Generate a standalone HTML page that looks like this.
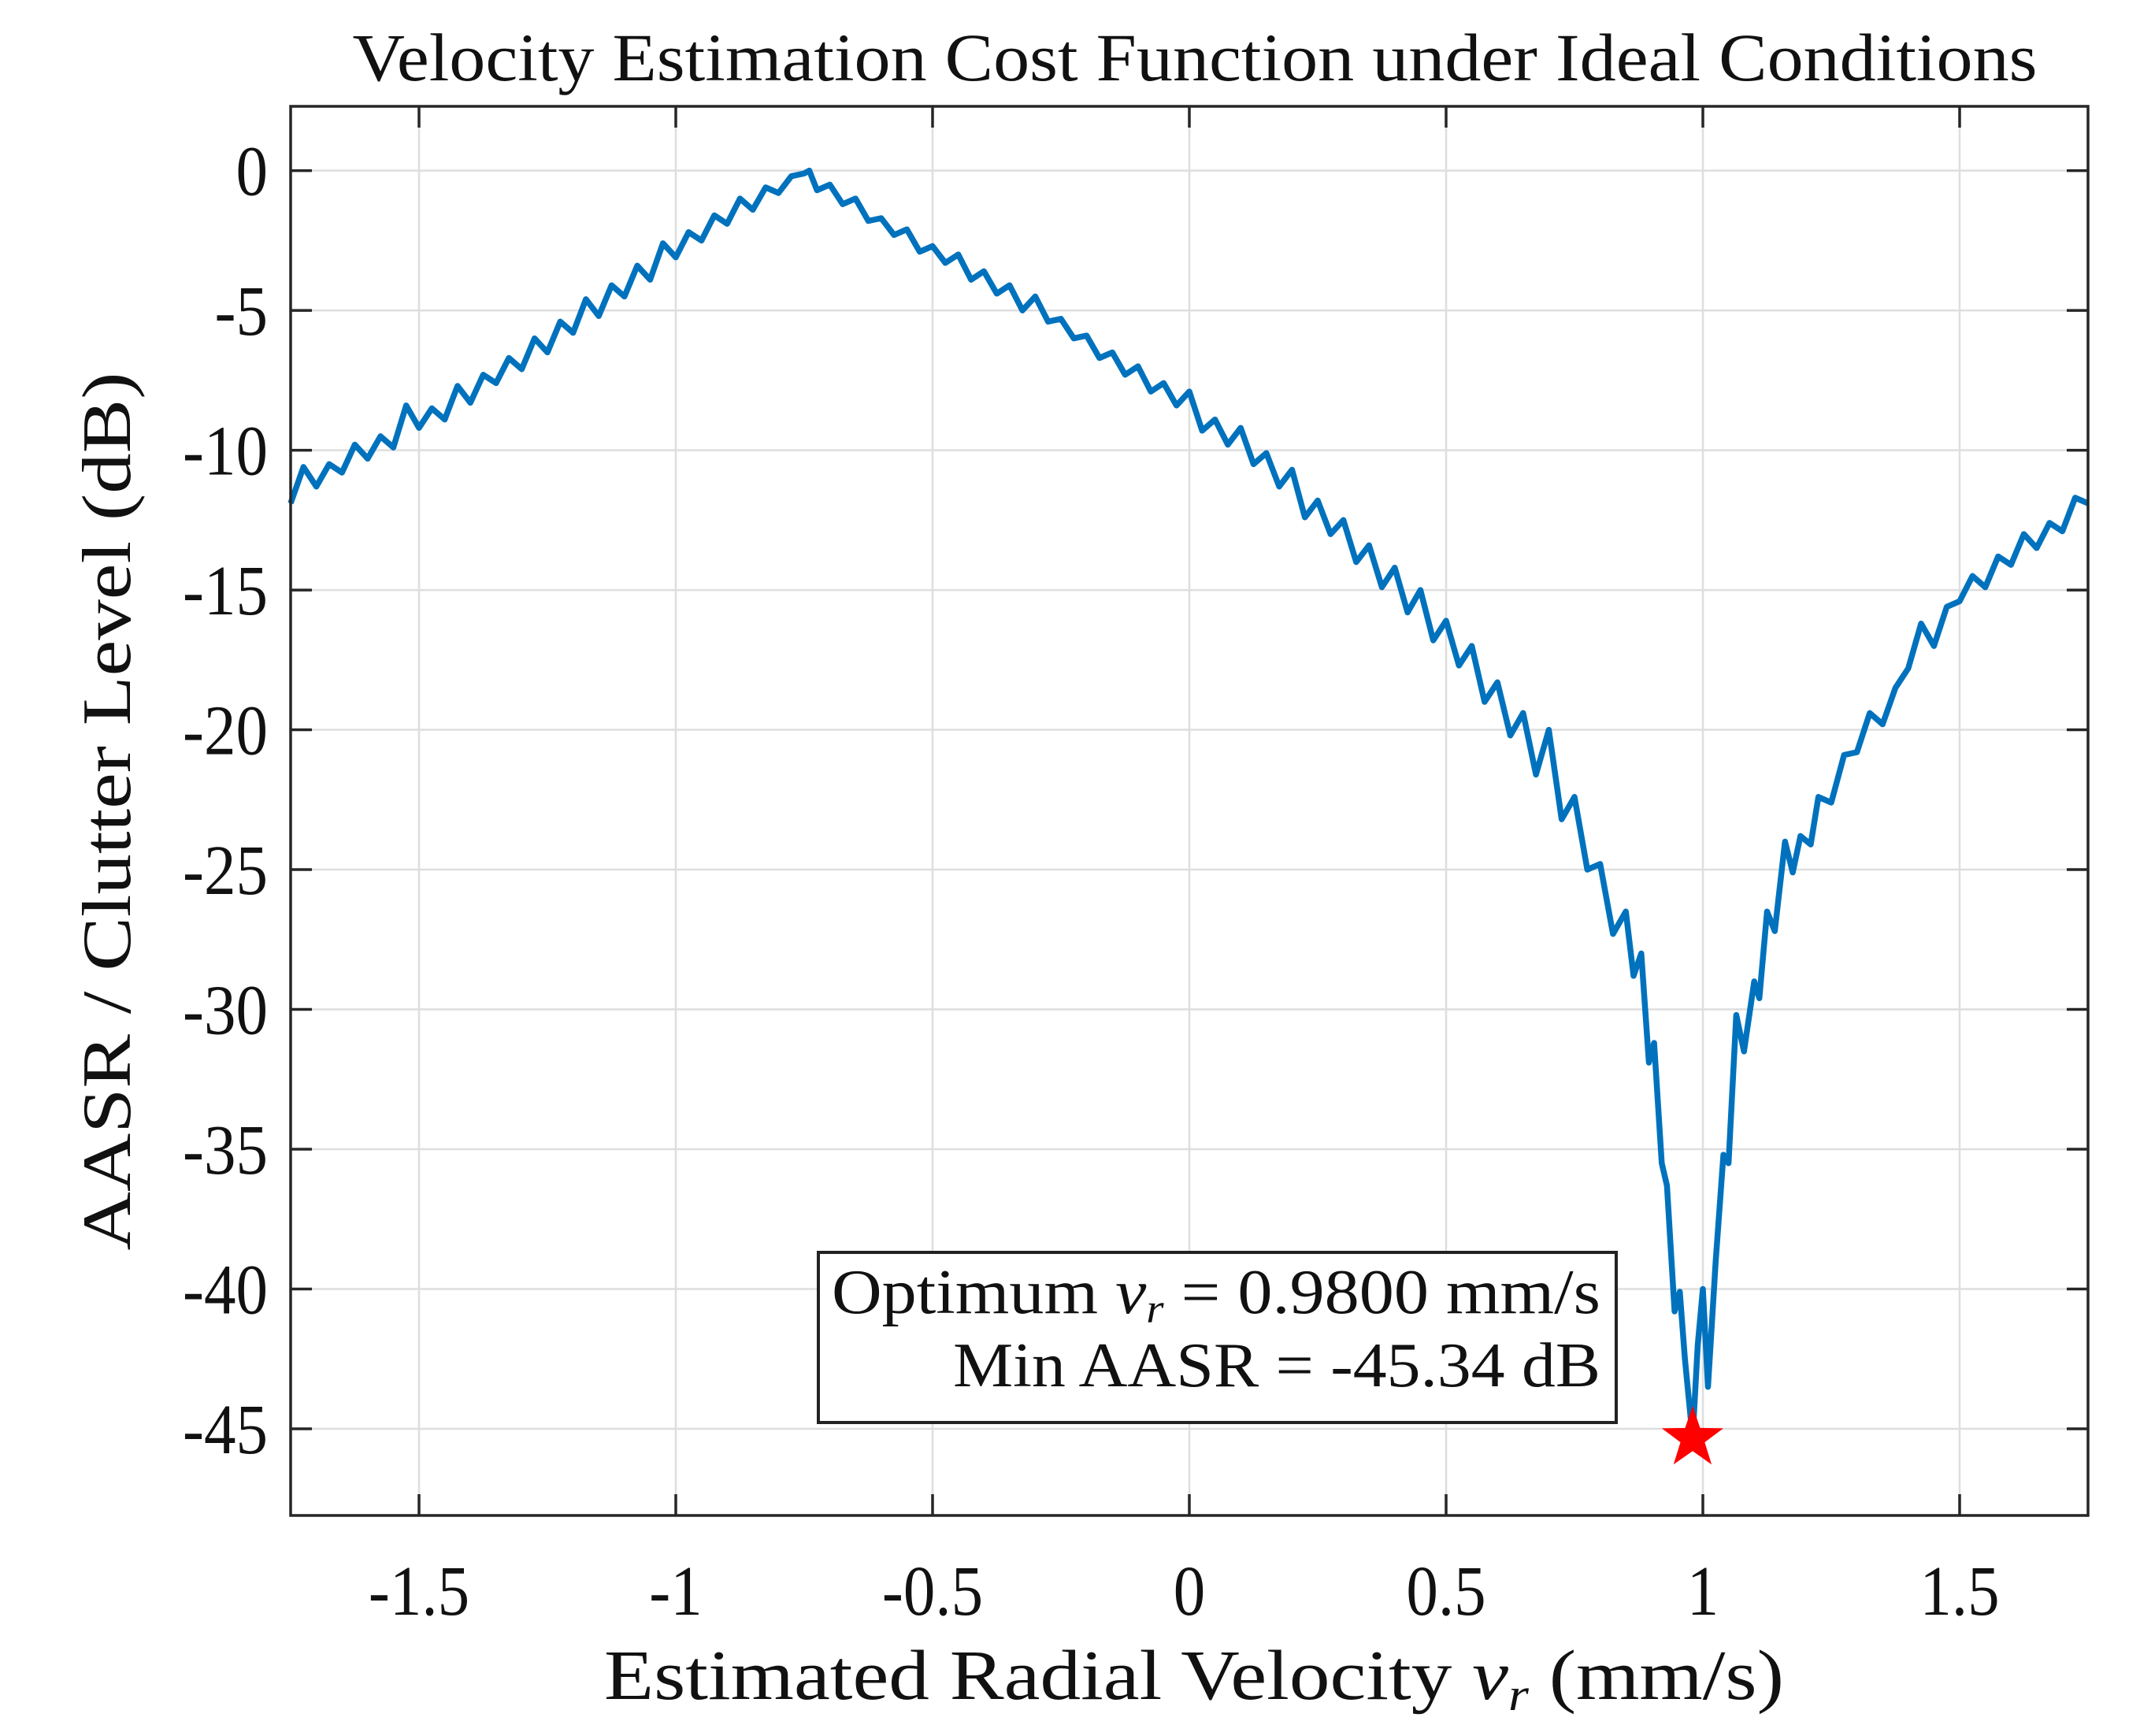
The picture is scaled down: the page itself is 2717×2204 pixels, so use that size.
<!DOCTYPE html>
<html>
<head>
<meta charset="utf-8">
<style>
html,body{margin:0;padding:0;background:#fff;}
svg{display:block;}
text{font-family:"Liberation Serif",serif;fill:#111;}
</style>
</head>
<body>
<svg id="chart" width="2717" height="2204" viewBox="0 0 2717 2204" xmlns="http://www.w3.org/2000/svg">
  <rect x="0" y="0" width="2717" height="2204" fill="#fff"/>
  <g id="grid"></g>
  <g id="curve-layer"></g>
  <g id="axes"></g>
  <text x="1517" y="102" font-size="86" text-anchor="middle" textLength="2139" lengthAdjust="spacingAndGlyphs">Velocity Estimation Cost Function under Ideal Conditions</text>
  <text x="1516" y="2157" font-size="90" text-anchor="middle" textLength="1498" lengthAdjust="spacingAndGlyphs">Estimated Radial Velocity <tspan font-style="italic">v</tspan><tspan font-style="italic" font-size="58" dy="14">r</tspan><tspan dy="-14"> (mm/s)</tspan></text>
  <text transform="translate(165,1030) rotate(-90)" x="0" y="0" font-size="88" text-anchor="middle" textLength="1115" lengthAdjust="spacingAndGlyphs" fill="#222">AASR / Clutter Level (dB)</text>
  <g>
    <rect x="1039" y="1590" width="1013" height="216" fill="#fff" stroke="#222" stroke-width="4"/>
    <text x="2032" y="1667" font-size="80" text-anchor="end" textLength="976" lengthAdjust="spacingAndGlyphs">Optimum <tspan font-style="italic">v</tspan><tspan font-style="italic" font-size="52" dy="12">r</tspan><tspan dy="-12"> = 0.9800 mm/s</tspan></text>
    <text x="2032" y="1760" font-size="80" text-anchor="end" textLength="822" lengthAdjust="spacingAndGlyphs">Min AASR = -45.34 dB</text>
  </g>
</svg>
<script>
const xTicks = [-1.5, -1, -0.5, 0, 0.5, 1, 1.5];
const xTickLabels = ["-1.5", "-1", "-0.5", "0", "0.5", "1", "1.5"];
const yTicks = [0, -5, -10, -15, -20, -25, -30, -35, -40, -45];
const yTickLabels = ["0", "-5", "-10", "-15", "-20", "-25", "-30", "-35", "-40", "-45"];
const velocity = [-1.75,-1.725,-1.7,-1.675,-1.65,-1.625,-1.6,-1.575,-1.55,-1.525,-1.5,-1.475,-1.45,-1.425,-1.4,-1.375,-1.35,-1.325,-1.3,-1.275,-1.25,-1.225,-1.2,-1.175,-1.15,-1.125,-1.1,-1.075,-1.05,-1.025,-1.0,-0.975,-0.95,-0.925,-0.9,-0.875,-0.85,-0.825,-0.8,-0.775,-0.75,-0.74,-0.725,-0.7,-0.675,-0.65,-0.625,-0.6,-0.575,-0.55,-0.525,-0.5,-0.475,-0.45,-0.425,-0.4,-0.375,-0.35,-0.325,-0.3,-0.275,-0.25,-0.225,-0.2,-0.175,-0.15,-0.125,-0.1,-0.075,-0.05,-0.025,0,0.025,0.05,0.075,0.1,0.125,0.15,0.175,0.2,0.225,0.25,0.275,0.3,0.325,0.35,0.375,0.4,0.425,0.45,0.475,0.5,0.525,0.55,0.575,0.6,0.625,0.65,0.675,0.7,0.725,0.75,0.775,0.8,0.825,0.85,0.865,0.88,0.895,0.905,0.92,0.93,0.945,0.955,0.965,0.98,0.99,1.0,1.01,1.025,1.04,1.05,1.065,1.08,1.1,1.11,1.125,1.14,1.16,1.175,1.19,1.21,1.225,1.25,1.275,1.3,1.325,1.35,1.375,1.4,1.425,1.45,1.475,1.5,1.525,1.55,1.575,1.6,1.625,1.65,1.675,1.7,1.725,1.75];
const aasr = [-11.9,-10.6,-11.3,-10.5,-10.8,-9.8,-10.3,-9.5,-9.9,-8.4,-9.2,-8.5,-8.9,-7.7,-8.3,-7.3,-7.6,-6.7,-7.1,-6.0,-6.5,-5.4,-5.8,-4.6,-5.2,-4.1,-4.5,-3.4,-3.9,-2.6,-3.1,-2.2,-2.5,-1.6,-1.9,-1.0,-1.4,-0.6,-0.8,-0.2,-0.1,0,-0.7,-0.5,-1.2,-1.0,-1.8,-1.7,-2.3,-2.1,-2.9,-2.7,-3.3,-3.0,-3.9,-3.6,-4.4,-4.1,-5.0,-4.5,-5.4,-5.3,-6.0,-5.9,-6.7,-6.5,-7.3,-7.0,-7.9,-7.6,-8.4,-7.9,-9.3,-8.9,-9.8,-9.2,-10.5,-10.1,-11.3,-10.7,-12.4,-11.8,-13.0,-12.5,-14.0,-13.4,-14.9,-14.2,-15.8,-15.0,-16.8,-16.1,-17.7,-17.0,-19.0,-18.3,-20.2,-19.4,-21.6,-20.0,-23.2,-22.4,-25.0,-24.8,-27.3,-26.5,-28.8,-28.0,-31.9,-31.2,-35.5,-36.3,-40.8,-40.1,-42.5,-45.34,-42.0,-40.0,-43.5,-39.0,-35.2,-35.5,-30.2,-31.5,-29.0,-29.6,-26.5,-27.2,-24.0,-25.1,-23.8,-24.1,-22.4,-22.6,-20.9,-20.8,-19.4,-19.8,-18.5,-17.8,-16.2,-17.0,-15.6,-15.4,-14.5,-14.9,-13.8,-14.1,-13.0,-13.5,-12.6,-12.9,-11.7,-11.9];
const optimumV = [0.98];
const optimumAasr = [-45.34];

const NS = "http://www.w3.org/2000/svg";
const PL = 369, PR = 2651, PT = 135, PB = 1924;
const X0 = -1.75, X1 = 1.75, Y0 = -48.1, Y1 = 2.3;
function sx(v){ return PL + (v - X0) / (X1 - X0) * (PR - PL); }
function sy(v){ return PB - (v - Y0) / (Y1 - Y0) * (PB - PT); }
function mk(tag, attrs, parent){
  const e = document.createElementNS(NS, tag);
  for (const k in attrs) e.setAttribute(k, attrs[k]);
  parent.appendChild(e);
  return e;
}
const grid = document.getElementById('grid');
const axes = document.getElementById('axes');
const layer = document.getElementById('curve-layer');

xTicks.forEach((t, i) => {
  const gx = mk('line', {x1: sx(t), x2: sx(t), y1: PT, y2: PB, stroke: '#dedede', 'stroke-width': 2.5}, grid);
  
  
  const tb = mk('line', {x1: sx(t), x2: sx(t), y1: PB, y2: PB - 27, stroke: '#262626', 'stroke-width': 3.5}, axes);
  
  
  const tt = mk('line', {x1: sx(t), x2: sx(t), y1: PT, y2: PT + 27, stroke: '#262626', 'stroke-width': 3.5}, axes);
  
  
  const lb = mk('text', {x: sx(t), y: 2050, 'font-size': 90, 'text-anchor': 'middle', transform: 'translate(' + sx(t) + ',0) scale(0.9,1) translate(' + (-sx(t)) + ',0)'}, axes);
  lb.textContent = xTickLabels[i];
  
  
});
yTicks.forEach((t, i) => {
  const gy = mk('line', {x1: PL, x2: PR, y1: sy(t), y2: sy(t), stroke: '#dedede', 'stroke-width': 2.5}, grid);
  
  
  const tl = mk('line', {x1: PL, x2: PL + 27, y1: sy(t), y2: sy(t), stroke: '#262626', 'stroke-width': 3.5}, axes);
  
  
  const tr = mk('line', {x1: PR, x2: PR - 27, y1: sy(t), y2: sy(t), stroke: '#262626', 'stroke-width': 3.5}, axes);
  
  
  const lb = mk('text', {x: 340, y: sy(t) + 31, 'font-size': 90, 'text-anchor': 'end', transform: 'translate(340,0) scale(0.9,1) translate(-340,0)'}, axes);
  lb.textContent = yTickLabels[i];
  
  
});
const frame = mk('rect', {x: PL, y: PT, width: PR - PL, height: PB - PT, fill: 'none', stroke: '#262626', 'stroke-width': 3.5}, axes);



let d = '';
velocity.forEach((v, i) => { d += (i ? 'L' : 'M') + sx(v).toFixed(1) + ',' + sy(aasr[i]).toFixed(1); });
const path = mk('path', {d: d, fill: 'none', stroke: '#0072BD', 'stroke-width': 7.5, 'stroke-linejoin': 'round'}, layer);



optimumV.forEach((v, i) => {
  const cx = sx(v), cy = sy(optimumAasr[i]), R = 38, r = 15;
  let p = '';
  for (let k = 0; k < 10; k++) {
    const a = -Math.PI / 2 + k * Math.PI / 5;
    const rad = k % 2 ? r : R;
    p += (cx + rad * Math.cos(a)).toFixed(1) + ',' + (cy + rad * Math.sin(a)).toFixed(1) + ' ';
  }
  const star = mk('polygon', {points: p, fill: '#ff0000', stroke: '#ff0000', 'stroke-width': 2}, layer);
  
  
});
</script>
</body>
</html>
